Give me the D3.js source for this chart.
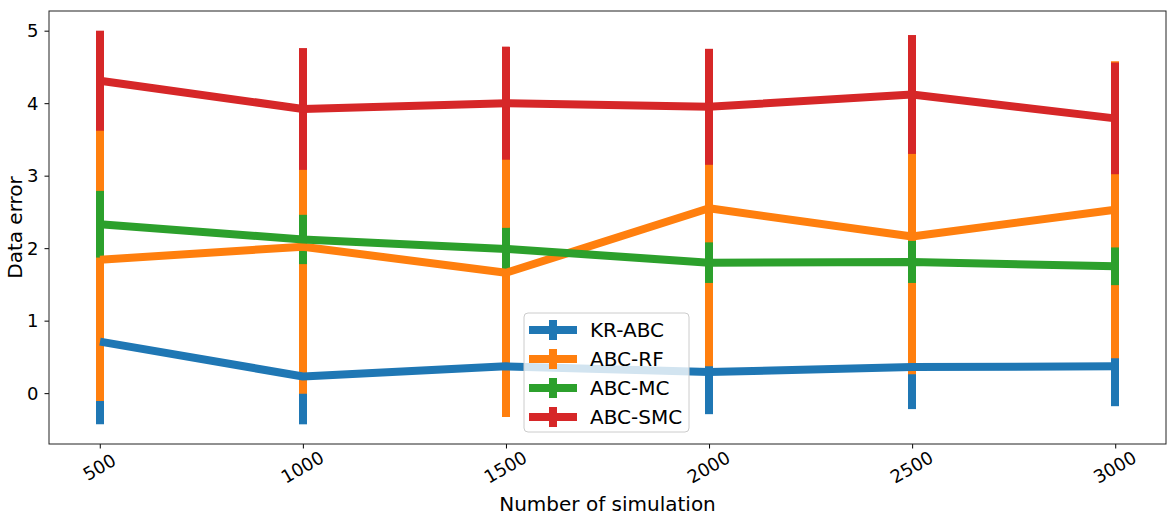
<!DOCTYPE html>
<html>
<head>
<meta charset="utf-8">
<script src="https://cdn.jsdelivr.net/npm/d3@7"></script>
<style>
  body { margin: 0; background: #fff; }
  text { font-family: "DejaVu Sans", sans-serif; fill: #000; }
</style>
</head>
<body>
<div id="app"></div>
<script>
let sims = [500, 1000, 1500, 2000, 2500, 3000];
let seriesNames = ['KR-ABC', 'ABC-RF', 'ABC-MC', 'ABC-SMC'];
let colors = ['#1f77b4', '#ff7f0e', '#2ca02c', '#d62728'];

// means and symmetric errors
let krMean = [0.71, 0.23, 0.37, 0.29, 0.36, 0.37];
let krErr = [1.14, 0.66, 0.55, 0.58, 0.58, 0.55];
let rfMean = [1.84, 2.02, 1.66, 2.55, 2.16, 2.53];
let rfErr = [1.95, 2.03, 1.99, 2.18, 1.90, 2.05];
let mcMean = [2.33, 2.12, 1.99, 1.80, 1.81, 1.75];
let mcErr = [0.46, 0.34, 0.29, 0.28, 0.29, 0.26];
let smcMean = [4.31, 3.92, 4.00, 3.95, 4.12, 3.79];
let smcErr = [0.69, 0.84, 0.78, 0.80, 0.82, 0.77];

let yTicks = [0, 1, 2, 3, 4, 5];

let series = [
  { name: seriesNames[0], mean: krMean, err: krErr, color: colors[0] },
  { name: seriesNames[1], mean: rfMean, err: rfErr, color: colors[1] },
  { name: seriesNames[2], mean: mcMean, err: mcErr, color: colors[2] },
  { name: seriesNames[3], mean: smcMean, err: smcErr, color: colors[3] }
];

let W = 1175, H = 521;
let margin = { top: 11, right: 9, bottom: 77, left: 49 };
let width = W - margin.left - margin.right;
let height = H - margin.top - margin.bottom;

// matplotlib style 5% padding on data limits
let xMin = d3.min(sims), xMax = d3.max(sims);
let xPad = (xMax - xMin) * 0.05;
let lo = d3.min(series, s => d3.min(s.mean, (m, i) => m - s.err[i]));
let hi = d3.max(series, s => d3.max(s.mean, (m, i) => m + s.err[i]));
let yPad = (hi - lo) * 0.05;

let x = d3.scaleLinear().domain([xMin - xPad, xMax + xPad]).range([0, width]);
let y = d3.scaleLinear().domain([lo - yPad, hi + yPad]).range([height, 0]);

let svg = d3.select('#app').append('svg')
    .attr('width', W)
    .attr('height', H);

let g = svg.append('g')
    .attr('transform', `translate(${margin.left}, ${margin.top})`);

let lw = 8;

// error bars first (all series), then data lines on top
series.forEach(function(s) {
  g.append('g').selectAll('line')
    .data(sims)
    .enter()
    .append('line')
      .attr('x1', d => Math.round(x(d)))
      .attr('x2', d => Math.round(x(d)))
      .attr('y1', (d, i) => y(s.mean[i] - s.err[i]))
      .attr('y2', (d, i) => y(s.mean[i] + s.err[i]))
      .style('stroke', s.color)
      .style('stroke-width', lw);
});

let line = d3.line()
  .x(d => Math.round(x(d[0])))
  .y(d => y(d[1]));

series.forEach(function(s) {
  g.append('path')
    .datum(sims.map((d, i) => [d, s.mean[i]]))
    .attr('d', line)
    .style('fill', 'none')
    .style('stroke', s.color)
    .style('stroke-width', lw)
    .style('stroke-linejoin', 'round');
});

// axes
let xAxis = d3.axisBottom(x).tickValues(sims).tickFormat(d3.format('d')).tickSize(4.5).tickPadding(4);
let yAxis = d3.axisLeft(y).tickValues(yTicks).tickFormat(d3.format('d')).tickSize(4.5).tickPadding(6);

let gx = g.append('g')
  .attr('transform', `translate(0, ${height})`)
  .call(xAxis);
gx.select('.domain').remove();
gx.selectAll('line').style('stroke', '#000').style('stroke-width', 1);
gx.selectAll('text')
  .style('font-size', '18px')
  .attr('dy', null)
  .attr('y', 0)
  .attr('text-anchor', 'middle')
  .attr('dominant-baseline', 'central')
  .attr('transform', 'translate(-1, 23) rotate(-30)');

let gy = g.append('g').call(yAxis);
gy.select('.domain').remove();
gy.selectAll('line').style('stroke', '#000').style('stroke-width', 1);
gy.selectAll('text').style('font-size', '18px').attr('dy', '0.35em');

// frame
g.append('rect')
  .attr('width', width)
  .attr('height', height)
  .style('fill', 'none')
  .style('stroke', '#222')
  .style('stroke-width', 1);

// axis labels
svg.append('text')
  .attr('x', margin.left + width / 2)
  .attr('y', 511)
  .attr('text-anchor', 'middle')
  .style('font-size', '20px')
  .text('Number of simulation');

svg.append('text')
  .attr('transform', `translate(22, ${margin.top + height / 2}) rotate(-90)`)
  .attr('text-anchor', 'middle')
  .style('font-size', '20px')
  .text('Data error');

// legend
let legend = svg.append('g').attr('transform', 'translate(524, 313)');
legend.append('rect')
  .attr('width', 165)
  .attr('height', 119)
  .attr('rx', 4)
  .style('fill', '#fff')
  .style('fill-opacity', 0.8)
  .style('stroke', '#ccc')
  .style('stroke-width', 1);

let rowH = 29;
series.forEach(function(s, i) {
  let row = legend.append('g').attr('transform', `translate(0, ${17 + i * rowH})`);
  row.append('line')
    .attr('x1', 5).attr('x2', 53).attr('y1', 0).attr('y2', 0)
    .style('stroke', s.color).style('stroke-width', lw);
  row.append('line')
    .attr('x1', 29).attr('x2', 29).attr('y1', -10).attr('y2', 10)
    .style('stroke', s.color).style('stroke-width', lw);
  row.append('text')
    .attr('x', 66)
    .attr('y', 0)
    .attr('dy', '0.35em')
    .style('font-size', '20px')
    .text(s.name);
});
</script>
</body>
</html>
